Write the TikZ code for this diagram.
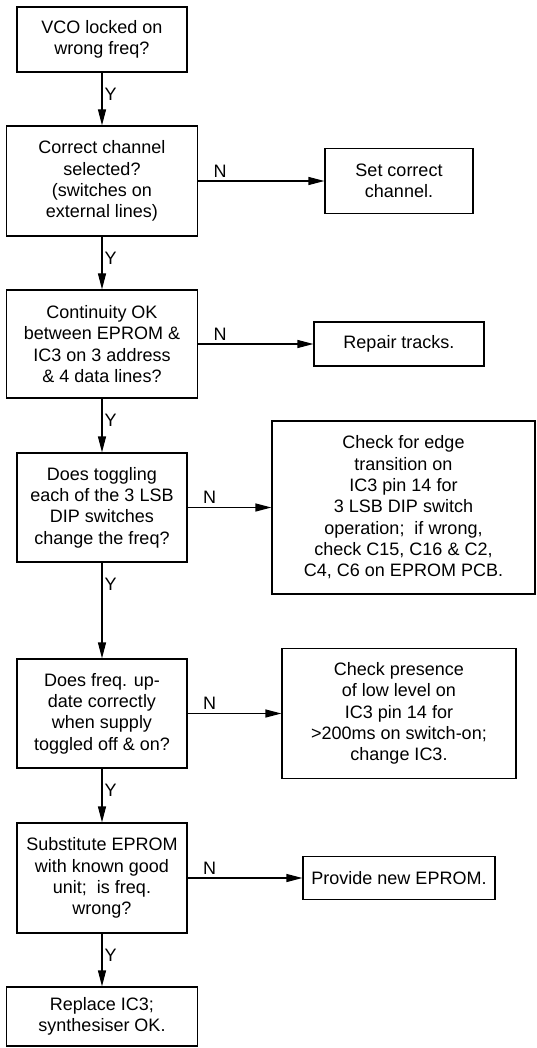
\documentclass[tikz,border=0pt]{standalone}
\usepackage{fontspec}
\setmainfont{Liberation Sans}
\usepackage{tikz}
\usetikzlibrary{arrows.meta,positioning}

\begin{document}
\begin{tikzpicture}[x=1pt, y=-1pt,
    box/.style={draw, line width=1.2pt, align=center, inner sep=0pt,
                font=\fontsize{18}{21.3}\selectfont},
    arr/.style={line width=1.2pt, -{Triangle[length=16pt,width=8pt]}},
    ylbl/.style={right, inner sep=2pt, yshift=-22pt,
                 font=\fontsize{18}{21.3}\selectfont},
    nlbl/.style={above right, inner sep=3pt, xshift=12pt,
                 font=\fontsize{18}{21.3}\selectfont}]
            \useasboundingbox (0,0) rectangle (536,1048);

            % Questions
            \node[box, minimum width=170pt, minimum height=65pt] (vco) at (102,39.5)
                {VCO locked on\\wrong freq?};
            \node[box, minimum width=191pt, minimum height=110pt] (chan) at (102,181)
                {Correct channel\\selected?\\(switches on\\external lines)};
            \node[box, minimum width=191pt, minimum height=108pt] (cont) at (102,344)
                {Continuity OK\\between EPROM \&\\IC3 on 3 address\\\& 4 data lines?};
            \node[box, minimum width=170pt, minimum height=109pt] (dip) at (102,507.5)
                {Does toggling\\each of the 3 LSB\\DIP switches\\change the freq?};
            \node[box, minimum width=170pt, minimum height=109pt] (upd) at (102,713.5)
                {Does freq. up-\\date correctly\\when supply\\toggled off \& on?};
            \node[box, minimum width=170pt, minimum height=110pt] (subst) at (102,878)
                {Substitute EPROM\\with known good\\unit; \ is freq.\\wrong?};
            \node[box, minimum width=191pt, minimum height=59pt] (repl) at (102,1016.5)
                {Replace IC3;\\synthesiser OK.};

            % Actions
            \node[box, minimum width=148pt, minimum height=65pt] (setchan) at (399,181)
                {Set correct\\channel.};
            \node[box, minimum width=170pt, minimum height=44pt] (repair) at (399,344)
                {Repair tracks.};
            \node[box, minimum width=263pt, minimum height=173pt] (edge) at (403.5,507.5)
                {Check for edge\\transition on\\IC3 pin 14 for\\3 LSB DIP switch\\operation; \ if wrong,\\check C15, C16 \& C2,\\C4, C6 on EPROM PCB.};
            \node[box, minimum width=234pt, minimum height=130pt] (lowlvl) at (399,713.5)
                {Check presence\\of low level on\\IC3 pin 14 for\\>200ms on switch-on;\\change IC3.};
            \node[box, minimum width=192pt, minimum height=43pt] (newprom) at (399,878)
                {Provide new EPROM.};

            % Yes branches
            \draw[arr] (vco.south) -- (chan.north) node[ylbl, at start] {Y};
            \draw[arr] (chan.south) -- (cont.north) node[ylbl, at start] {Y};
            \draw[arr] (cont.south) -- (dip.north) node[ylbl, at start] {Y};
            \draw[arr] (dip.south) -- (upd.north) node[ylbl, at start] {Y};
            \draw[arr] (upd.south) -- (subst.north) node[ylbl, at start] {Y};
            \draw[arr] (subst.south) -- (repl.north) node[ylbl, at start] {Y};

            % No branches
            \draw[arr] (chan.east) -- (setchan.west) node[nlbl, at start] {N};
            \draw[arr] (cont.east) -- (repair.west) node[nlbl, at start] {N};
            \draw[arr] (dip.east) -- (edge.west) node[nlbl, at start] {N};
            \draw[arr] (upd.east) -- (lowlvl.west) node[nlbl, at start] {N};
            \draw[arr] (subst.east) -- (newprom.west) node[nlbl, at start] {N};
        \end{tikzpicture}
\end{document}
